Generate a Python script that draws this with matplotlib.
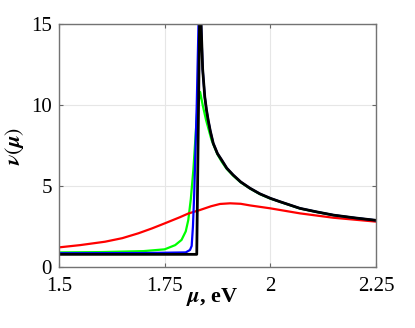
import matplotlib
matplotlib.use('Agg')
import matplotlib.pyplot as plt

# values
mu_black = [1.5, 1.6, 1.7, 1.8, 1.826, 1.834, 1.836, 1.840, 1.845, 1.849, 1.853,
            1.858, 1.865, 1.875, 1.885, 1.897, 1.912, 1.93, 1.952, 1.975, 2.0,
            2.023, 2.07, 2.11, 2.15, 2.2, 2.25]
nu_black = [0.78, 0.78, 0.78, 0.78, 0.78, 18.0, 15.2, 12.2, 10.5, 9.7, 9.07,
            8.4, 7.63, 7.0, 6.6, 6.1, 5.68, 5.25, 4.86, 4.52, 4.24,
            4.03, 3.62, 3.4, 3.2, 3.03, 2.88]

mu_blue = [1.5, 1.7, 1.8, 1.81, 1.814, 1.817, 1.82, 1.826, 1.831, 1.834, 1.836,
           1.840, 1.845, 1.849, 1.853, 1.858, 1.865, 1.875, 1.885, 1.897, 1.912,
           1.93, 1.952, 1.975, 2.0, 2.023, 2.07, 2.11, 2.15, 2.2, 2.25]
nu_blue = [0.85, 0.86, 0.9, 1.05, 1.3, 2.5, 4.5, 10.0, 16.0, 18.0, 15.2,
           12.2, 10.5, 9.7, 9.07, 8.4, 7.63, 7.0, 6.6, 6.1, 5.68,
           5.25, 4.86, 4.52, 4.24, 4.03, 3.62, 3.4, 3.2, 3.03, 2.88]

mu_green = [1.5, 1.6, 1.7, 1.75, 1.775, 1.79, 1.80, 1.806, 1.812, 1.818, 1.823,
            1.827, 1.834, 1.840, 1.848, 1.861, 1.875, 1.885, 1.897, 1.912, 1.93,
            1.952, 1.975, 2.0, 2.023, 2.07, 2.11, 2.15, 2.2, 2.25]
nu_green = [0.9, 0.92, 0.98, 1.09, 1.35, 1.67, 2.2, 2.9, 4.2, 6.0, 8.0,
            9.6, 10.8, 10.0, 9.07, 7.84, 6.95, 6.5, 6.05, 5.64, 5.22,
            4.84, 4.5, 4.22, 4.02, 3.61, 3.39, 3.19, 3.02, 2.87]

mu_red = [1.5, 1.55, 1.609, 1.65, 1.688, 1.72, 1.751, 1.786, 1.806, 1.834, 1.86,
          1.881, 1.905, 1.93, 1.952, 2.0, 2.07, 2.149, 2.25]
nu_red = [1.21, 1.35, 1.56, 1.78, 2.08, 2.38, 2.7, 3.07, 3.3, 3.52, 3.75,
          3.89, 3.93, 3.9, 3.8, 3.62, 3.31, 3.04, 2.8]

xticks = [1.5, 1.75, 2, 2.25]
xticklabels = ['1.5', '1.75', '2', '2.25']
yticks = [0, 5, 10, 15]

plt.rcParams['font.family'] = ['Liberation Serif', 'DejaVu Serif']
plt.rcParams['mathtext.fontset'] = 'stix'

fig = plt.figure(figsize=(4.15, 3.28), dpi=100)
ax = fig.add_axes([0.142, 0.186, 0.764, 0.741])

ax.plot(mu_green, nu_green, color=(0, 1, 0), lw=1.6)
ax.plot(mu_red, nu_red, color=(1, 0, 0), lw=1.6)
ax.plot(mu_blue, nu_blue, color=(0, 0, 1), lw=1.6)
ax.plot(mu_black, nu_black, color='k', lw=2.0)

ax.set_xlim(1.5, 2.25)
ax.set_ylim(0, 15)
ax.set_xticks(xticks)
ax.set_xticklabels(xticklabels)
ax.set_yticks(yticks)
ax.grid(True, color='0.9', lw=0.8)
ax.set_axisbelow(True)
ax.tick_params(direction='in', length=3, width=0.8, color='0.4',
               labelsize=15, top=True, right=True)
ax.tick_params(axis='x', pad=7)
ax.tick_params(axis='y', pad=5)
for sp in ax.spines.values():
    sp.set_color('0.45')
    sp.set_linewidth(1.0)

ax.set_xlabel(r'$\mathbfit{\mu}$, eV', fontsize=16, fontweight='bold')
ax.set_ylabel(r'$\mathbfit{\nu}(\mathbfit{\mu})$', fontsize=16)
ax.xaxis.set_label_coords(0.483, -0.08)
ax.yaxis.set_label_coords(-0.105, 0.5)

fig.savefig('out.png', dpi=100)
